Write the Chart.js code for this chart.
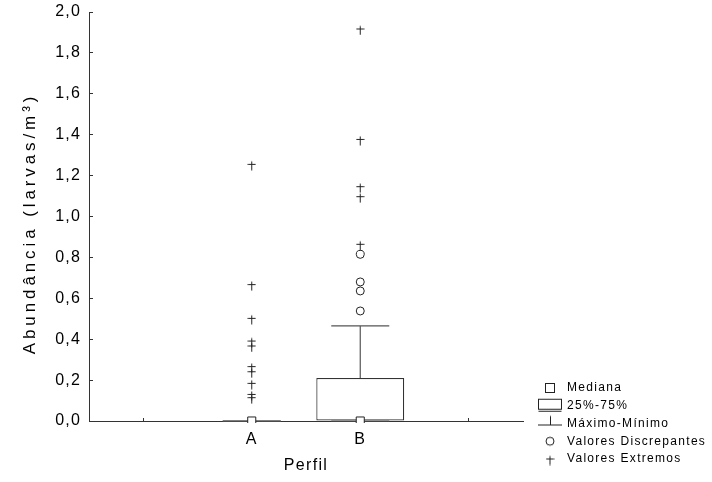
<!DOCTYPE html>
<html><head><meta charset="utf-8">
<script src="https://cdn.jsdelivr.net/npm/chart.js@4/dist/chart.umd.min.js"></script>
<style>html,body{margin:0;padding:0;background:#fff}</style>
</head><body>
<canvas id="c" width="712" height="482"></canvas>
<script>
// ---- data ----
const categories = ['A', 'B'];
const boxQ1 = [0, 0];
const boxQ3 = [0, 0.21];
const medians = [0, 0];
const whiskerMin = [0, 0];
const whiskerMax = [0, 0.465];
const outliersA = [];
const outliersB = [0.815, 0.68, 0.636, 0.538];
const extremesA = [1.255, 0.667, 0.502, 0.391, 0.367, 0.266, 0.241, 0.184, 0.130, 0.114];
const extremesB = [1.917, 1.377, 1.146, 1.097, 0.864];
const yTickValues = [0, 0.2, 0.4, 0.6, 0.8, 1.0, 1.2, 1.4, 1.6, 1.8, 2.0];
const legendLabels = ['Mediana', '25%-75%', 'Máximo-Mínimo', 'Valores Discrepantes', 'Valores Extremos'];
const xTitle = 'Perfil';
const yTitle = 'Abundância (larvas/m³)';

// ---- styling helpers ----
const INK = '#222';
const FONT = "'Liberation Sans', Arial, sans-serif";
Chart.defaults.font.family = FONT;
Chart.defaults.color = '#000';

function mk(w, h, draw) {
  const c = document.createElement('canvas');
  c.width = w; c.height = h;
  const g = c.getContext('2d');
  g.strokeStyle = INK; g.lineWidth = 1;
  draw(g);
  return c;
}
const dagger = mk(9, 13, g => {
  g.beginPath();
  g.moveTo(0.5, 6.5); g.lineTo(8.5, 6.5);
  g.moveTo(4.5, 3.5); g.lineTo(4.5, 12.5);
  g.stroke();
});
const symMedian = mk(24, 12, g => { g.strokeRect(7.5, 1.5, 9, 9); });
const symBox = mk(26, 16, g => {
  g.strokeRect(1.5, 1.5, 23, 10);
  g.beginPath(); g.moveTo(1.5, 13.5); g.lineTo(24.5, 13.5); g.stroke();
});
const symWhisk = mk(26, 20, g => {
  g.beginPath();
  g.moveTo(1, 11.5); g.lineTo(25, 11.5);
  g.moveTo(13.5, 2.5); g.lineTo(13.5, 11.5);
  g.stroke();
});
const symCircle = mk(12, 12, g => { g.beginPath(); g.arc(6, 6, 4, 0, Math.PI * 2); g.stroke(); });
const legendSymbols = [symMedian, symBox, symWhisk, symCircle, dagger];

const labels = [''].concat(categories, ['']);
const fmt = v => v.toFixed(1).replace('.', ',');

const whiskerData = [];
categories.forEach((c, i) => {
  whiskerData.push({x: c, y: boxQ3[i]}, {x: c, y: whiskerMax[i]}, {x: c, y: null});
  whiskerData.push({x: c, y: whiskerMin[i]}, {x: c, y: boxQ1[i]}, {x: c, y: null});
});
const capData = [];
categories.forEach((c, i) => { capData.push({x: c, y: whiskerMax[i]}, {x: c, y: whiskerMin[i]}); });
const ptsFor = (cat, arr) => arr.map(v => ({x: cat, y: v}));

const spacing = {
  id: 'spacing',
  beforeLayout(chart) { chart.ctx.letterSpacing = '1.3px'; },
  beforeDraw(chart) { chart.ctx.letterSpacing = '1.3px'; }
};
function wrapTitle(s, ls, dy) {
  if (s._wrapT) return;
  const orig = s.drawTitle.bind(s);
  s.drawTitle = function () {
    const c = s.ctx; const prev = c.letterSpacing;
    c.save(); c.translate(0, dy);
    c.letterSpacing = ls; orig();
    c.restore(); c.letterSpacing = prev;
  };
  s._wrapT = true;
}

new Chart(document.getElementById('c'), {
  type: 'bar',
  plugins: [spacing],
  data: {
    labels: labels,
    datasets: [
      {
        type: 'scatter', label: 'Valores Extremos', order: 0,
        data: ptsFor('A', extremesA).concat(ptsFor('B', extremesB)),
        pointStyle: dagger, pointRadius: 5, clip: false
      },
      {
        type: 'scatter', label: 'Valores Discrepantes', order: 1,
        data: ptsFor('A', outliersA).concat(ptsFor('B', outliersB)),
        pointStyle: 'circle', pointRadius: 4, borderColor: INK, borderWidth: 1,
        backgroundColor: 'rgba(0,0,0,0)', clip: false
      },
      {
        type: 'scatter', label: 'Mediana', order: 2,
        data: categories.map((c, i) => ({x: c, y: medians[i]})),
        pointStyle: 'rect', pointRadius: 5.7, borderColor: INK, borderWidth: 1,
        backgroundColor: '#fff', clip: {left: 10, top: 10, right: 10, bottom: 2}
      },
      {
        type: 'scatter', label: 'caps', order: 3,
        data: capData, pointStyle: 'line', pointRadius: 29,
        borderColor: '#555', borderWidth: 1.2, clip: false
      },
      {
        type: 'line', label: 'whiskers', order: 4,
        data: whiskerData, spanGaps: false, pointRadius: 0,
        borderColor: '#555', borderWidth: 1.2, fill: false
      },
      {
        type: 'bar', label: '25%-75%', order: 5,
        data: categories.map((c, i) => ({x: c, y: [boxQ1[i], boxQ3[i]]})),
        backgroundColor: '#fff', borderColor: '#333', borderWidth: 1.2,
        borderSkipped: false, barPercentage: 1, categoryPercentage: 0.81
      }
    ]
  },
  options: {
    responsive: false,
    animation: false,
    devicePixelRatio: 1,
    events: [],
    layout: {autoPadding: false, padding: {top: 12, bottom: 11.25, left: 0, right: 0}},
    plugins: {
      tooltip: {enabled: false},
      legend: {
        position: 'right', align: 'end', maxWidth: 178.75,
        onClick: null,
        labels: {
          usePointStyle: true, pointStyleWidth: 22, padding: 5.75,
          font: {size: 12, family: FONT}, color: '#000',
          generateLabels: () => legendLabels.map((t, i) => ({
            text: t, pointStyle: legendSymbols[i], fillStyle: '#fff',
            strokeStyle: INK, lineWidth: 1, hidden: false, index: i
          }))
        }
      }
    },
    scales: {
      x: {
        type: 'category', offset: true,
        grid: {offset: false, drawOnChartArea: false, tickLength: -3, color: '#333'},
        border: {color: '#333', width: 1},
        ticks: {padding: 12.4, font: {size: 16}, color: '#000', autoSkip: false, maxRotation: 0},
        title: {display: true, text: xTitle, font: {size: 16}, color: '#000', padding: {top: 0, bottom: -4.85}},
        afterFit(s) { s.height = 49.75; s.paddingLeft = 0; s.paddingRight = 0; }
      },
      y: {
        type: 'linear', position: 'left', min: 0, max: 2,
        grid: {drawOnChartArea: false, tickLength: -4, color: '#333'},
        border: {color: '#333', width: 1},
        ticks: {padding: 11.7, font: {size: 16}, color: '#000', callback: v => fmt(v)},
        afterBuildTicks(s) { s.ticks = yTickValues.map(v => ({value: v})); },
        title: {display: true, text: yTitle, font: {size: 17}, color: '#000', padding: {top: 20, bottom: 0}},
        afterFit(s) { s.width = 89; s.paddingTop = 0; s.paddingBottom = 0; wrapTitle(s, '3.9px', 7); }
      },
      yDummy: {
        type: 'linear', position: 'right', display: true,
        grid: {display: false, drawTicks: false}, border: {display: false},
        ticks: {display: false},
        afterFit(s) { s.width = 10.25; s.paddingTop = 0; s.paddingBottom = 0; }
      }
    }
  }
});
</script>
</body></html>
